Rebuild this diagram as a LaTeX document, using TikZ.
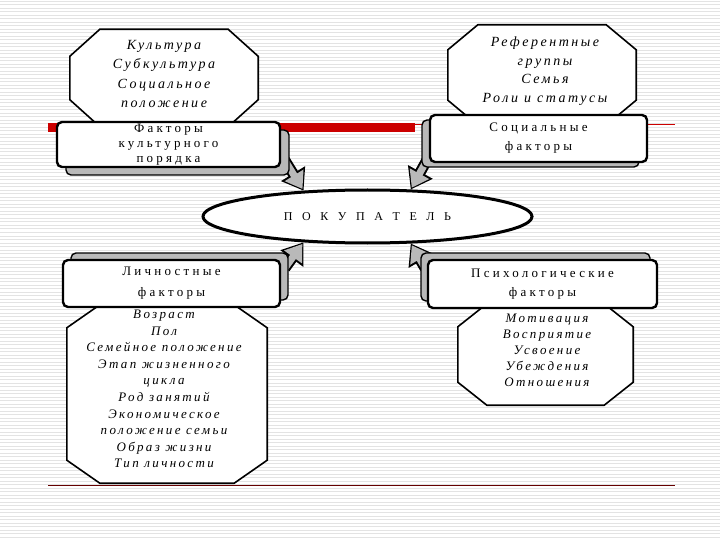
\documentclass[tikz,border=0pt]{standalone}
\usepackage{fontspec}
\setmainfont{Liberation Serif}
\newfontfamily\listfont[LetterSpace=18]{Liberation Serif}
\newfontfamily\boxfont[LetterSpace=25]{Liberation Serif}
\newfontfamily\buyerfont[LetterSpace=55]{Liberation Serif}
\usetikzlibrary{shapes.geometric, shadows, arrows.meta, calc}

% octagon round a (text-less) node: node, corner dx, corner dy
\newcommand{\octround}[3]{%
  \draw[octline] ([xshift=#2]#1.north west) -- ([xshift=-#2]#1.north east)
    -- ([yshift=-#3]#1.north east) -- ([yshift=#3]#1.south east)
    -- ([xshift=-#2]#1.south east) -- ([xshift=#2]#1.south west)
    -- ([yshift=#3]#1.south west) -- ([yshift=-#3]#1.north west) -- cycle;}

\begin{document}
\begin{tikzpicture}[
    x=1pt, y=-1pt,
    octline/.style={draw=black, line width=1.6pt, fill=white, line join=miter},
    octarea/.style={rectangle, draw=none, inner sep=0pt},
    listtext/.style={align=center, inner sep=0pt,
                     font=\listfont\itshape\fontsize{13}{17}\selectfont},
    factor/.style 2 args={rectangle, rounded corners=5pt, draw=black,
                   line width=2.4pt, fill=white, inner sep=0pt, align=center,
                   font=\boxfont\fontsize{13}{18}\selectfont,
                   general shadow={fill=gray!55, draw=black, line width=1.4pt,
                                   shadow xshift=#1, shadow yshift=#2}},
    buyer/.style={ellipse, draw=black, line width=3pt, fill=white,
                  minimum width=329pt, minimum height=53pt,
                  font=\buyerfont\fontsize{12}{14}\selectfont},
    fatarrow/.style={draw=black, line width=11pt,
                     -{Triangle[length=20pt,width=27pt]},
                     postaction={draw=gray!55, line width=7pt,
                                 -{Triangle[length=16pt,width=21pt]},
                                 shorten >=2pt}},
]

% background of the slide
\fill[white] (0,0) rectangle (720,540);
\useasboundingbox (0,0) rectangle (720,540);
\foreach \y in {1.5,5,...,540}
    \draw[gray!22, line width=1pt] (0,\y) -- (720,\y);
\fill[red!80!black] (48,123) rectangle (415,132);
\draw[red!80!black, line width=0.8pt] (415,124) -- (675,124);
\draw[red!40!black, line width=1pt] (48,485) -- (675,485);

% --- Lists of factors ---
\node[octarea, minimum width=188pt, minimum height=97pt] (kultlist) at (164,78) {};
\octround{kultlist}{30pt}{27pt}
\node[listtext, font=\listfont\itshape\fontsize{14}{19.5}\selectfont]
    (kulttext) at (164,74) {Культура\\Субкультура\\Социальное\\положение};

\node[octarea, minimum width=188pt, minimum height=100pt] (soclist) at (542,75) {};
\octround{soclist}{30pt}{25pt}
\node[listtext, font=\listfont\itshape\fontsize{14}{18.5}\selectfont]
    (soctext) at (545,71) {Референтные\\группы\\Семья\\Роли и статусы};

\node[octarea, minimum width=200pt, minimum height=178pt] (lichlist) at (167,394) {};
\octround{lichlist}{33pt}{23pt}
\node[listtext, font=\listfont\itshape\fontsize{13}{16.6}\selectfont]
    (lichtext) at (164,389)
    {Возраст\\Пол\\Семейное положение\\Этап жизненного\\цикла\\Род занятий\\%
     Экономическое\\положение семьи\\Образ жизни\\Тип личности};

\node[octarea, minimum width=175pt, minimum height=101pt] (psychlist) at (545.5,354.5) {};
\octround{psychlist}{29pt}{23pt}
\node[listtext, font=\listfont\itshape\fontsize{13}{16}\selectfont]
    (psychtext) at (547,350)
    {Мотивация\\Восприятие\\Усвоение\\Убеждения\\Отношения};

% --- Buyer ---
\node[buyer] (pok) at (367.5,216.5) {П О К У П А Т Е Л Ь};

% --- Factor boxes (named before the arrows that start under them) ---
\coordinate (kultfrom)  at (284,159);
\coordinate (socfrom)   at (427,160);
\coordinate (lichfrom)  at (285,268);
\coordinate (psychfrom) at (425,268);

% --- Arrows to the buyer ---
\draw[fatarrow] (kultfrom) -- (pok.158);
\draw[fatarrow] (socfrom) -- (pok.32);
\draw[fatarrow] (lichfrom) -- (pok.202);
\draw[fatarrow] (psychfrom) -- (pok.328);

% --- Factor boxes ---
\node[factor={9pt}{-8pt}, minimum width=223pt, minimum height=45pt,
      font=\boxfont\fontsize{13}{15}\selectfont]
    (kult) at (168.5,144.5) {Факторы\\культурного\\порядка};
\node[factor={-8pt}{-5pt}, minimum width=217pt, minimum height=47pt,
      font=\boxfont\fontsize{13}{19}\selectfont]
    (soc) at (538.5,138.5) {Социальные\\факторы};
\node[factor={8pt}{7pt}, minimum width=217pt, minimum height=47pt,
      font=\boxfont\fontsize{13}{21}\selectfont]
    (lich) at (171.5,283.5) {Личностные\\факторы};
\node[factor={-7pt}{7pt}, minimum width=229pt, minimum height=48pt,
      font=\boxfont\fontsize{13}{19}\selectfont]
    (psych) at (542.5,284) {Психологические\\факторы};

\end{tikzpicture}
\end{document}
